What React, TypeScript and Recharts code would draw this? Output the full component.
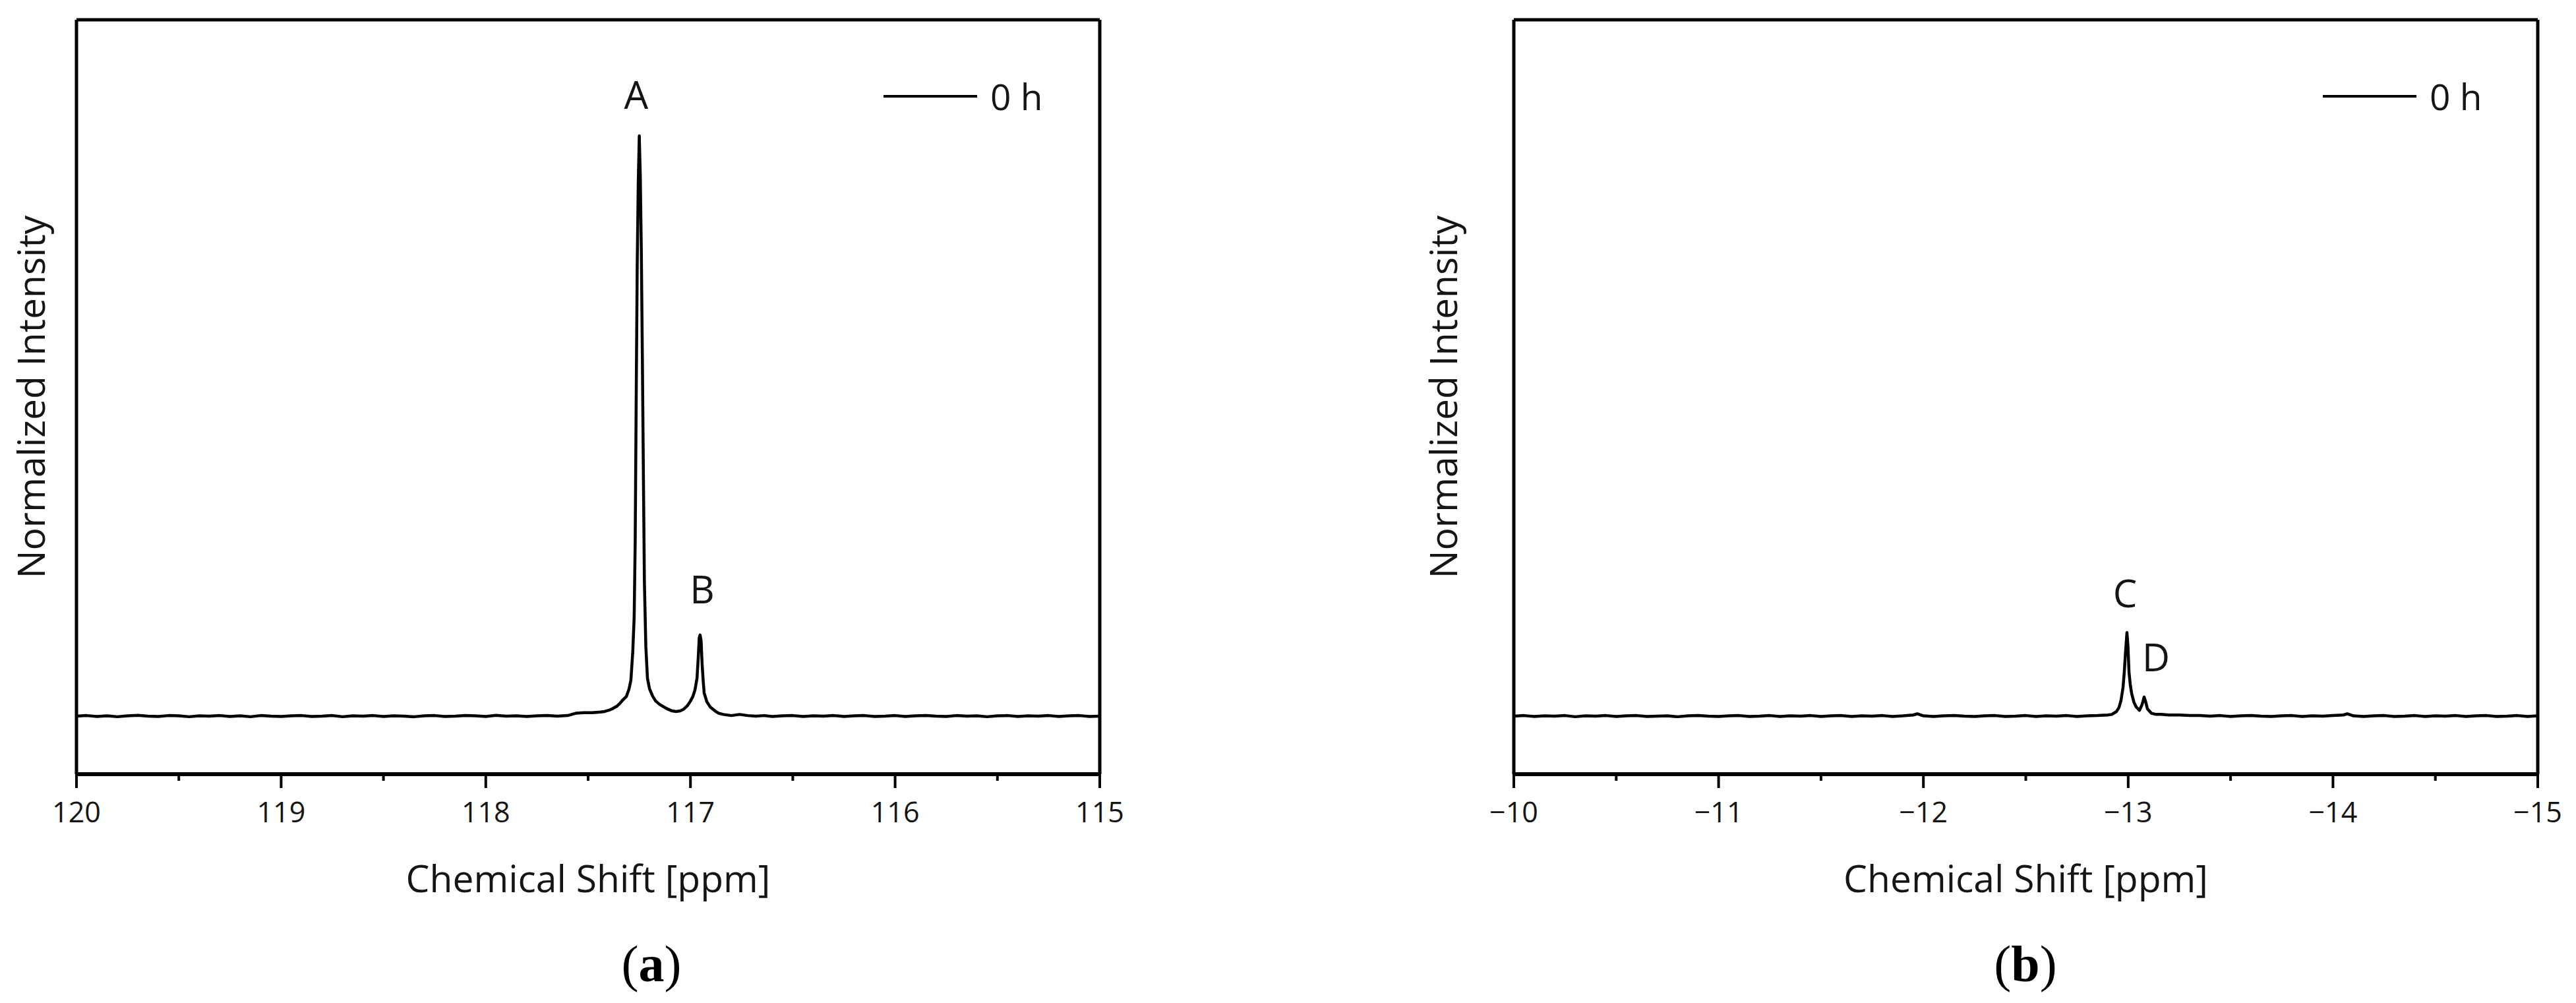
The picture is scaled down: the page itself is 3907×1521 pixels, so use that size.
import React from 'react';
import { LineChart, Line, XAxis, YAxis, ReferenceDot, Legend, Label } from 'recharts';

// ---------- Panel (a): 15N spectrum ----------
const shiftA: number[] = [
  120.0, 119.95, 119.9, 119.85, 119.8, 119.75, 119.7, 119.65, 119.6, 119.55,
  119.5, 119.45, 119.4, 119.35, 119.3, 119.25, 119.2, 119.15, 119.1, 119.05,
  119.0, 118.95, 118.9, 118.85, 118.8, 118.75, 118.7, 118.65, 118.6, 118.55,
  118.5, 118.45, 118.4, 118.35, 118.3, 118.25, 118.2, 118.15, 118.1, 118.05,
  118.0, 117.95, 117.9, 117.85, 117.8, 117.75, 117.7, 117.65, 117.6, 117.56,
  117.52, 117.48, 117.44, 117.42, 117.4, 117.38, 117.36, 117.345, 117.33, 117.313,
  117.3, 117.291, 117.282, 117.275, 117.27, 117.265, 117.26, 117.255, 117.25, 117.245,
  117.24, 117.235, 117.23, 117.225, 117.218, 117.21, 117.2, 117.184, 117.17, 117.15,
  117.13, 117.11, 117.09, 117.07, 117.05, 117.033, 117.015, 117.0, 116.988, 116.978,
  116.968, 116.962, 116.957, 116.953, 116.948, 116.943, 116.938, 116.933, 116.92, 116.904,
  116.88, 116.862, 116.84, 116.8, 116.76, 116.72, 116.68, 116.64, 116.6, 116.55,
  116.5, 116.45, 116.4, 116.35, 116.3, 116.25, 116.2, 116.15, 116.1, 116.05,
  116.0, 115.95, 115.9, 115.85, 115.8, 115.75, 115.7, 115.65, 115.6, 115.55,
  115.5, 115.45, 115.4, 115.35, 115.3, 115.25, 115.2, 115.15, 115.1, 115.05, 115.0,
];
const intensityA: number[] = [
  0.0, 0.001, -0.0005, 0.0005, -0.001, 0.0005, 0.0015, 0.0, -0.0005, 0.001,
  0.0005, -0.001, 0.0005, 0.0, 0.001, -0.0005, 0.0005, -0.001, 0.001, 0.0,
  -0.0005, 0.0005, 0.001, -0.0005, 0.0, 0.001, -0.001, 0.0005, 0.0, 0.001,
  -0.0005, 0.0005, 0.0, -0.001, 0.0005, 0.001, -0.0005, 0.0, 0.001, 0.0005,
  -0.0005, 0.0015, 0.0, 0.0005, -0.0005, 0.0005, 0.001, 0.0, 0.001, 0.005,
  0.006, 0.006, 0.007, 0.008, 0.01, 0.013, 0.017, 0.022, 0.028, 0.034,
  0.047, 0.062, 0.11, 0.17, 0.3, 0.55, 0.78, 0.92, 1.0, 0.93,
  0.8, 0.62, 0.42, 0.23, 0.12, 0.065, 0.047, 0.034, 0.026, 0.02,
  0.016, 0.012, 0.009, 0.008, 0.009, 0.012, 0.018, 0.026, 0.034, 0.045,
  0.065, 0.1, 0.135, 0.14, 0.13, 0.09, 0.062, 0.04, 0.025, 0.016,
  0.009, 0.005, 0.003, 0.001, 0.003, 0.001, 0.0, 0.001, -0.0005, 0.0005,
  0.001, -0.0005, 0.0005, 0.0, 0.001, -0.0005, 0.0005, 0.001, -0.0005, 0.0,
  0.001, -0.0005, 0.0005, 0.001, 0.0, -0.0005, 0.001, 0.0, 0.0005, -0.001,
  0.0005, 0.001, -0.0005, 0.0005, 0.0, 0.001, -0.0005, 0.0005, 0.001, -0.0005, 0.0,
];

// ---------- Panel (b): 29Si spectrum ----------
const shiftB: number[] = [
  -10.0, -10.05, -10.1, -10.15, -10.2, -10.25, -10.3, -10.35, -10.4, -10.45,
  -10.5, -10.55, -10.6, -10.65, -10.7, -10.75, -10.8, -10.85, -10.9, -10.95,
  -11.0, -11.05, -11.1, -11.15, -11.2, -11.25, -11.3, -11.35, -11.4, -11.45,
  -11.5, -11.55, -11.6, -11.65, -11.7, -11.75, -11.8, -11.85, -11.9, -11.95,
  -11.97, -12.0, -12.05, -12.1, -12.15, -12.2, -12.25, -12.3, -12.35, -12.4,
  -12.45, -12.5, -12.55, -12.6, -12.65, -12.7, -12.75, -12.8, -12.85, -12.9,
  -12.92, -12.943, -12.955, -12.965, -12.975, -12.981, -12.987, -12.994, -12.999, -13.004,
  -13.01, -13.017, -13.028, -13.039, -13.055, -13.068, -13.078, -13.086, -13.094, -13.113,
  -13.136, -13.16, -13.2, -13.25, -13.3, -13.35, -13.4, -13.45, -13.5, -13.55,
  -13.6, -13.65, -13.7, -13.75, -13.8, -13.85, -13.9, -13.95, -14.0, -14.05,
  -14.07, -14.1, -14.15, -14.2, -14.25, -14.3, -14.35, -14.4, -14.45, -14.5,
  -14.55, -14.6, -14.65, -14.7, -14.75, -14.8, -14.85, -14.9, -14.95, -15.0,
];
const intensityB: number[] = [
  0.0, 0.001, -0.0005, 0.0005, 0.0, 0.001, -0.001, 0.0005, 0.0, 0.001,
  -0.0005, 0.0005, 0.001, -0.0005, 0.0, 0.0005, -0.001, 0.0005, 0.001, 0.0,
  -0.0005, 0.0005, 0.001, -0.0005, 0.0, 0.001, -0.0005, 0.0005, 0.0, 0.001,
  -0.0005, 0.0005, 0.001, -0.0005, 0.0005, 0.0, 0.001, -0.0005, 0.0005, 0.002,
  0.004, 0.0005, -0.0005, 0.0005, 0.001, 0.0, -0.0005, 0.0005, 0.001, -0.0005,
  0.0, 0.001, -0.0005, 0.0005, 0.0, 0.001, -0.0005, 0.0005, 0.001, 0.002,
  0.003, 0.008, 0.015, 0.027, 0.05, 0.076, 0.11, 0.144, 0.12, 0.076,
  0.055, 0.039, 0.024, 0.016, 0.01, 0.02, 0.033, 0.024, 0.0125, 0.005,
  0.003, 0.003, 0.002, 0.002, 0.001, 0.001, 0.0, 0.001, -0.0005, 0.0005,
  0.001, 0.0, -0.0005, 0.0005, 0.001, -0.0005, 0.0005, 0.0, 0.001, 0.002,
  0.004, 0.0005, -0.0005, 0.0005, 0.001, -0.0005, 0.0, 0.001, -0.0005, 0.0005,
  0.0, 0.001, -0.0005, 0.0005, 0.001, -0.0005, 0.0, 0.001, -0.0005, 0.0005,
];

const ticksA: number[] = [115, 115.5, 116, 116.5, 117, 117.5, 118, 118.5, 119, 119.5, 120];
const ticksB: number[] = [-15, -14.5, -14, -13.5, -13, -12.5, -12, -11.5, -11, -10.5, -10];
const legendName = '0 h';
const xTitle = 'Chemical Shift [ppm]';
const yTitle = 'Normalized Intensity';
const peaksA = [
  { name: 'A', x: 117.265, y: 1.07 },
  { name: 'B', x: 116.943, y: 0.218 },
];
const peaksB = [
  { name: 'C', x: -12.985, y: 0.211 },
  { name: 'D', x: -13.136, y: 0.101 },
];

const dataA = shiftA.map((x, i) => ({ x, y: intensityA[i] }));
const dataB = shiftB.map((x, i) => ({ x, y: intensityB[i] }));

const FONT = '"Open Sans", "Noto Sans", sans-serif';
const TEXT = '#151515';

const fmtTick = (v: number) => (v < 0 ? '\u2212' + Math.abs(v) : String(v));

const AxisTick = (props: any) => {
  const { x, y, payload } = props;
  const v = payload.value as number;
  const major = Math.abs(v - Math.round(v)) < 1e-6;
  return (
    <g>
      <line x1={x} x2={x} y1={y} y2={y + (major ? 21 : 10)} stroke="#000" strokeWidth={4} />
      {major && (
        <text x={x} y={y + 73} textAnchor="middle" fontSize={43} fontFamily={FONT} fill={TEXT}>
          {fmtTick(v)}
        </text>
      )}
    </g>
  );
};

const LegendContent = () => (
  <div style={{ display: 'flex', alignItems: 'center', fontFamily: FONT }}>
    <svg width={142} height={10} style={{ display: 'block' }}>
      <line x1={0} x2={142} y1={5} y2={5} stroke="#000" strokeWidth={4} />
    </svg>
    <span style={{ marginLeft: 20, fontSize: 55, lineHeight: 1, color: TEXT }}>{legendName}</span>
  </div>
);

type PanelProps = {
  data: { x: number; y: number }[];
  domain: [number, number];
  ticks: number[];
  peaks: { name: string; x: number; y: number }[];
  width: number;
  plotLeft: number;
  plotRight: number;
  yLabelOffset: number;
  legendLeft: number;
};

const Panel = ({ data, domain, ticks, peaks, width, plotLeft, plotRight, yLabelOffset, legendLeft }: PanelProps) => (
  <LineChart
    width={width}
    height={1521}
    data={data}
    margin={{ top: 29, right: width - plotRight - 1, bottom: 287, left: plotLeft - 1 }}
  >
    <XAxis
      dataKey="x"
      type="number"
      domain={domain}
      reversed
      ticks={ticks}
      interval={0}
      allowDataOverflow
      height={60}
      tickSize={0}
      tickMargin={0}
      tickLine={false}
      tick={<AxisTick />}
      axisLine={{ stroke: '#000', strokeWidth: 6 }}
    >
      <Label
        position="bottom"
        content={(p: any) => {
          const vb = p.viewBox || {};
          return (
            <text
              x={vb.x + vb.width / 2}
              y={vb.y + 179}
              textAnchor="middle"
              fontSize={57}
              fontFamily={FONT}
              fill={TEXT}
            >
              {xTitle}
            </text>
          );
        }}
      />
    </XAxis>
    <XAxis
      xAxisId="top"
      dataKey="x"
      orientation="top"
      type="number"
      domain={domain}
      reversed
      allowDataOverflow
      height={1}
      tick={false}
      tickLine={false}
      axisLine={{ stroke: '#000', strokeWidth: 5 }}
    />
    <YAxis
      type="number"
      domain={[-0.1, 1.2]}
      allowDataOverflow
      width={1}
      tick={false}
      tickLine={false}
      axisLine={{ stroke: '#000', strokeWidth: 5 }}
    >
      <Label
        position="left"
        content={(p: any) => {
          const vb = p.viewBox || {};
          const bx = vb.x + vb.width + yLabelOffset;
          const cy = vb.y + vb.height / 2;
          return (
            <text
              x={bx}
              y={cy}
              transform={`rotate(-90 ${bx} ${cy})`}
              textAnchor="middle"
              fontSize={57}
              fontFamily={FONT}
              fill={TEXT}
            >
              {yTitle}
            </text>
          );
        }}
      />
    </YAxis>
    <YAxis
      yAxisId="right"
      orientation="right"
      type="number"
      domain={[-0.1, 1.2]}
      allowDataOverflow
      width={1}
      tick={false}
      tickLine={false}
      axisLine={{ stroke: '#000', strokeWidth: 5 }}
    />
    <Legend
      layout="horizontal"
      verticalAlign="middle"
      align="center"
      content={<LegendContent />}
      wrapperStyle={{ left: legendLeft, top: 118, width: 'auto' }}
    />
    <Line
      type="linear"
      dataKey="y"
      name={legendName}
      stroke="#000"
      strokeWidth={4.5}
      strokeLinejoin="round"
      dot={false}
      activeDot={false}
      isAnimationActive={false}
    />
    {peaks.map((pk) => (
      <ReferenceDot
        key={pk.name}
        x={pk.x}
        y={pk.y}
        r={0}
        fill="none"
        stroke="none"
        label={{ value: pk.name, position: 'center', fontSize: 58, fontFamily: FONT, fill: TEXT }}
      />
    ))}
  </LineChart>
);

const captionStyle: React.CSSProperties = {
  position: 'absolute',
  top: 1462,
  transform: 'translate(-50%, -50%)',
  fontFamily: '"Liberation Serif", "Times New Roman", serif',
  fontSize: 78,
  lineHeight: 1,
  color: '#000',
  whiteSpace: 'nowrap',
};

export default function App() {
  return (
    <div style={{ position: 'absolute', left: 0, top: 0, width: 3907, height: 1521, background: '#fff', overflow: 'hidden' }}>
      <div style={{ position: 'absolute', left: 0, top: 0 }}>
        <Panel
          data={dataA}
          domain={[115, 120]}
          ticks={ticksA}
          peaks={peaksA}
          width={1953}
          plotLeft={116}
          plotRight={1668}
          yLabelOffset={-48}
          legendLeft={1340}
        />
      </div>
      <div style={{ position: 'absolute', left: 1953, top: 0 }}>
        <Panel
          data={dataB}
          domain={[-15, -10]}
          ticks={ticksB}
          peaks={peaksB}
          width={1954}
          plotLeft={343}
          plotRight={1896}
          yLabelOffset={-86}
          legendLeft={1570}
        />
      </div>
      <div style={{ ...captionStyle, left: 988 }}>
        (<b>a</b>)
      </div>
      <div style={{ ...captionStyle, left: 3072 }}>
        (<b>b</b>)
      </div>
    </div>
  );
}
